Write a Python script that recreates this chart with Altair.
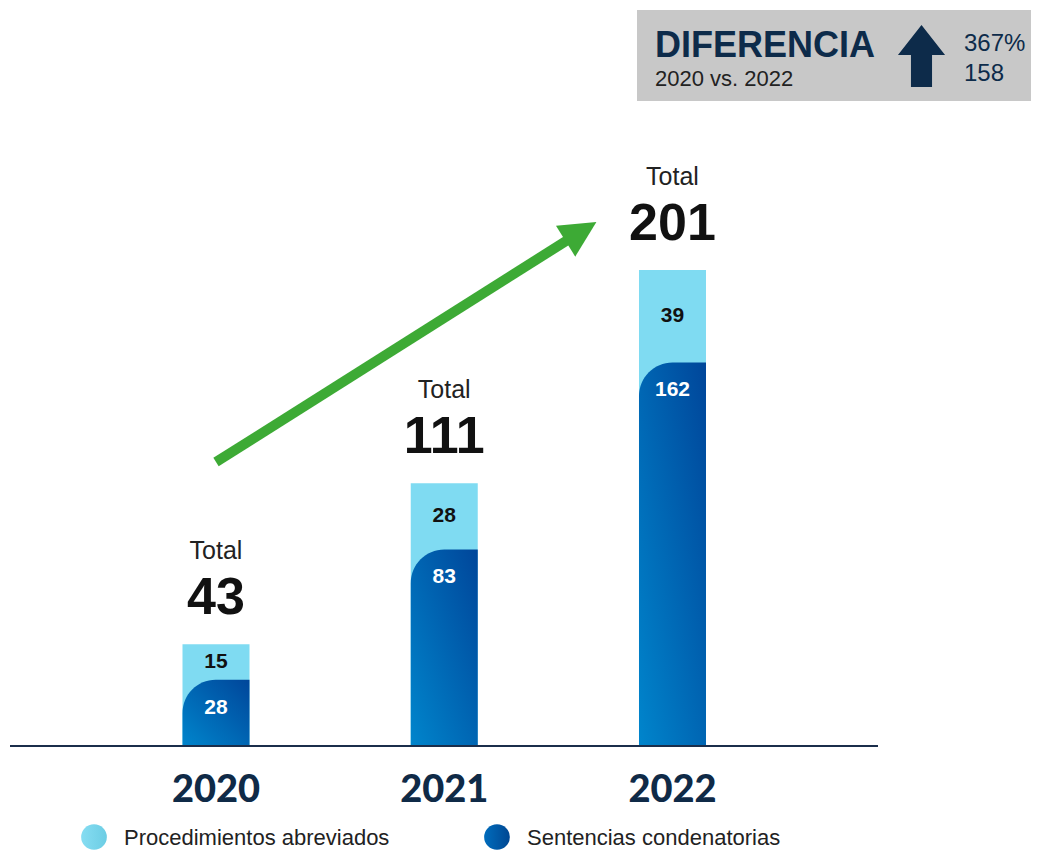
import altair as alt
import pandas as pd

# ---- data ----
years = [2020, 2021, 2022]
year_labels = ["2020", "2021", "2022"]
abreviados = [15, 28, 39]
sentencias = [28, 83, 162]
totales = [43, 111, 201]
legend_labels = ["Procedimientos abreviados", "Sentencias condenatorias"]
diff_title = ["DIFERENCIA"]
diff_sub = ["2020 vs. 2022"]
diff_pct = ["367%"]
diff_abs = ["158"]
total_word = "Total"
# green trend arrow (annotation, in data units)
arrow_x = [2020, 2021.544]
arrow_y = [119.9, 213.9]

df = pd.DataFrame({"year": years, "label": year_labels, "abre": abreviados,
                   "sent": sentencias, "total": totales})
df["mid"] = df["sent"] + df["abre"] / 2
df["base"] = 0
arrow_df = pd.DataFrame({"x": arrow_x, "y": arrow_y, "o": [0, 1]})

W, H = 1023, 843
xs = alt.Scale(domain=[2019.1106, 2023.5488], nice=False, zero=False)
ys = alt.Scale(domain=[-44.35, 311.66], nice=False, zero=False)
X = alt.X("year:Q", scale=xs, axis=None)

NAVY = "#0D2B4A"
LIGHT = "#7FDBF2"
dark_grad = alt.LinearGradient(
    gradient="linear", x1=1, y1=0, x2=0, y2=1,
    stops=[alt.GradientStop(color="#00469A", offset=0),
           alt.GradientStop(color="#0085CC", offset=1)])
light_grad = alt.LinearGradient(
    gradient="linear", x1=0, y1=0, x2=1, y2=0,
    stops=[alt.GradientStop(color="#86DDF2", offset=0),
           alt.GradientStop(color="#6CCDE4", offset=1)])
dark_circ_grad = alt.LinearGradient(
    gradient="linear", x1=0, y1=0, x2=1, y2=0,
    stops=[alt.GradientStop(color="#006CBC", offset=0),
           alt.GradientStop(color="#004792", offset=1)])

base = alt.Chart(df)

light_bars = base.mark_bar(size=67, color=LIGHT).encode(
    x=X, y=alt.Y("total:Q", scale=ys, axis=None), y2="base:Q")
dark_bars = base.mark_bar(size=67, color=dark_grad, cornerRadiusTopLeft=62).encode(
    x=X, y=alt.Y("sent:Q", scale=ys, axis=None), y2="base:Q")

total_w = base.mark_text(text=total_word, font="Liberation Sans", fontSize=25,
                         color="#222222", dy=-93).encode(
    x=X, y=alt.Y("total:Q", scale=ys, axis=None))
total_n = base.mark_text(font="Liberation Sans", fontSize=52, fontWeight="bold",
                         color="#111111", dy=-46).encode(
    x=X, y=alt.Y("total:Q", scale=ys, axis=None), text="total:Q")
light_lbl = base.mark_text(font="Liberation Sans", fontSize=21, fontWeight="bold",
                           color="#111111").encode(
    x=X, y=alt.Y("mid:Q", scale=ys, axis=None), text="abre:Q")
dark_lbl = base.mark_text(font="Liberation Sans", fontSize=21, fontWeight="bold",
                          color="white", dy=28).encode(
    x=X, y=alt.Y("sent:Q", scale=ys, axis=None), text="sent:Q")

years_txt = base.mark_text(font="Lato", fontSize=38, fontWeight=900,
                           color="#0F2A47").encode(
    x=X, y=alt.value(783), text="label:N")

baseline = alt.Chart(pd.DataFrame({"b": [0]})).mark_rule(
    color="#1B2E4B", strokeWidth=2).encode(
    x=alt.value(2), x2=alt.value(870), y=alt.Y("b:Q", scale=ys, axis=None))

GREEN = "#3DAA35"
arrow_line = alt.Chart(arrow_df).mark_line(color=GREEN, strokeWidth=10,
                                           strokeCap="butt").encode(
    x=alt.X("x:Q", scale=xs, axis=None), y=alt.Y("y:Q", scale=ys, axis=None),
    order="o:O")
arrow_head = alt.Chart(arrow_df.iloc[[1]]).mark_point(
    shape="M0,-1 L0.55,0.1 L-0.55,0.1 Z", filled=True, color=GREEN, opacity=1,
    size=4356, angle=58).encode(
    x=alt.X("x:Q", scale=xs, axis=None), y=alt.Y("y:Q", scale=ys, axis=None))

# ---- difference box ----
one = pd.DataFrame({"a": [0]})
box = alt.Chart(one).mark_rect(color="#C8C8C8").encode(
    x=alt.value(629), x2=alt.value(1023), y=alt.value(2), y2=alt.value(93))
t_title = alt.Chart(pd.DataFrame({"t": diff_title})).mark_text(
    font="Liberation Sans", fontSize=36, fontWeight="bold", color=NAVY,
    align="left", baseline="alphabetic").encode(
    x=alt.value(647), y=alt.value(49), text="t:N")
t_sub = alt.Chart(pd.DataFrame({"t": diff_sub})).mark_text(
    font="Liberation Sans", fontSize=22, color="#222222",
    align="left", baseline="alphabetic").encode(
    x=alt.value(647), y=alt.value(78), text="t:N")
t_pct = alt.Chart(pd.DataFrame({"t": diff_pct})).mark_text(
    font="Liberation Sans", fontSize=24, color=NAVY,
    align="left", baseline="alphabetic").encode(
    x=alt.value(956), y=alt.value(43), text="t:N")
t_abs = alt.Chart(pd.DataFrame({"t": diff_abs})).mark_text(
    font="Liberation Sans", fontSize=24, color=NAVY,
    align="left", baseline="alphabetic").encode(
    x=alt.value(956), y=alt.value(73), text="t:N")
up_arrow = alt.Chart(one).mark_point(
    shape="M0,-1 L0.76,-0.03 L0.34,-0.03 L0.34,1 L-0.34,1 L-0.34,-0.03 L-0.76,-0.03 Z",
    filled=True, color=NAVY, opacity=1, size=3844).encode(
    x=alt.value(913.5), y=alt.value(48))

# ---- legend ----
leg_c1 = alt.Chart(one).mark_point(shape="circle", filled=True, opacity=1,
                                   fill=light_grad, size=660).encode(
    x=alt.value(86), y=alt.value(829))
leg_c2 = alt.Chart(one).mark_point(shape="circle", filled=True, opacity=1,
                                   fill=dark_circ_grad, size=660).encode(
    x=alt.value(489), y=alt.value(829))
leg_t1 = alt.Chart(pd.DataFrame({"t": [legend_labels[0]]})).mark_text(
    font="Liberation Sans", fontSize=22, color="#222222", align="left",
    baseline="alphabetic").encode(
    x=alt.value(116), y=alt.value(837), text="t:N")
leg_t2 = alt.Chart(pd.DataFrame({"t": [legend_labels[1]]})).mark_text(
    font="Liberation Sans", fontSize=22, color="#222222", align="left",
    baseline="alphabetic").encode(
    x=alt.value(519), y=alt.value(837), text="t:N")

chart = alt.layer(
    light_bars, dark_bars, baseline, arrow_line, arrow_head,
    total_w, total_n, light_lbl, dark_lbl, years_txt,
    box, t_title, t_sub, t_pct, t_abs, up_arrow,
    leg_c1, leg_c2, leg_t1, leg_t2,
).properties(
    width=W, height=H, padding=0,
    autosize=alt.AutoSizeParams(type="none"),
).configure(background="white").configure_view(stroke=None)

chart.save("out.html", embed_options={"renderer": "svg", "actions": False})
